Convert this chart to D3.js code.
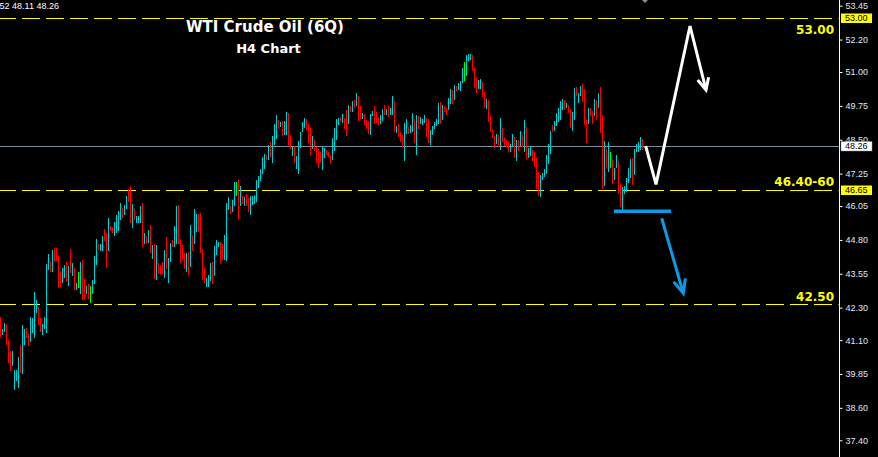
<!DOCTYPE html>
<html><head><meta charset="utf-8">
<script src="https://cdn.jsdelivr.net/npm/d3@7/dist/d3.min.js"></script>
<style>html,body{margin:0;padding:0;background:#000;overflow:hidden}</style>
</head><body>
<svg id="c" width="878" height="457"></svg>
<script>
// ---- data (H4 bars: high / low / direction u=up d=down g=neutral) ----
const highs = [
41.96,41.51,41.73,41.71,41.10,40.70,40.70,40.00,40.00,40.49,
40.92,41.66,41.51,41.55,41.34,41.95,41.92,42.88,42.58,42.32,
41.93,41.71,41.95,43.92,44.28,44.02,44.44,44.50,44.50,44.21,
43.65,43.77,43.87,43.98,43.85,44.46,43.95,43.76,43.22,43.62,
43.98,44.06,43.36,43.10,43.17,43.10,43.32,44.21,44.83,44.65,
44.65,44.94,45.20,45.06,45.61,45.31,45.28,45.46,45.72,45.87,
46.16,45.98,46.09,46.42,46.67,46.79,46.13,45.94,45.69,45.69,
46.05,46.16,45.06,44.94,45.17,45.35,44.61,44.65,44.61,43.95,
43.87,43.98,44.43,44.91,44.13,44.69,44.80,45.31,46.05,46.09,
44.83,44.61,44.32,44.32,44.35,45.35,44.98,45.94,45.76,45.76,
45.79,44.46,43.76,43.39,43.50,43.95,43.98,44.58,44.80,44.72,
44.72,44.65,44.98,46.16,46.38,46.05,46.27,46.94,46.94,47.01,
46.79,46.42,46.38,46.50,46.35,46.42,46.42,46.46,47.01,47.16,
47.42,47.86,47.97,47.94,48.31,48.42,48.64,49.08,49.41,49.23,
49.15,49.19,49.19,49.52,49.49,48.67,48.27,48.27,47.90,48.45,
48.79,49.15,49.30,49.27,49.08,48.97,48.64,48.49,48.23,48.16,
48.05,48.27,48.19,48.12,48.05,47.94,48.56,48.93,49.27,49.30,
49.34,49.45,49.30,49.60,49.78,49.75,49.93,49.97,50.23,50.12,
49.75,49.49,49.45,49.23,49.19,49.45,49.56,49.75,49.52,49.34,
49.41,49.63,49.78,49.63,49.75,49.67,50.12,49.93,49.01,49.08,
48.79,48.67,49.12,49.27,48.97,49.04,49.49,49.27,49.41,49.38,
49.34,49.27,49.41,49.30,49.27,48.86,49.01,49.15,49.27,49.86,
49.89,49.78,49.75,49.67,50.04,50.37,50.34,50.52,50.48,50.60,
50.67,51.15,51.37,51.63,51.67,51.67,51.63,51.15,50.82,50.71,
50.74,50.63,50.26,50.00,49.97,49.38,48.90,48.64,48.71,48.67,
49.30,48.93,48.60,48.49,48.45,48.34,48.71,48.60,48.49,48.49,
48.82,48.67,49.23,48.97,48.19,48.27,48.12,48.05,47.82,47.31,
47.20,47.27,47.42,47.94,48.34,48.82,49.04,49.19,49.49,49.67,
49.93,50.00,49.97,49.86,49.78,49.63,49.52,50.41,50.45,50.23,
50.48,50.56,50.37,49.23,49.67,49.67,49.56,50.00,49.97,50.23,
50.45,49.41,48.45,48.16,48.42,48.05,47.79,47.46,47.94,47.71,
46.90,46.75,46.79,47.09,47.46,47.79,47.82,48.16,48.34,48.42,48.60,48.52];
const lows = [
41.20,41.29,41.41,40.92,40.25,39.97,40.14,39.26,39.60,39.34,
39.90,39.85,40.92,41.19,40.89,41.04,41.36,41.19,42.11,41.66,
41.40,41.30,41.51,41.37,43.68,43.63,43.63,44.00,44.02,43.04,
43.07,43.22,43.38,43.26,43.11,43.57,43.48,42.96,42.96,43.04,
42.81,42.59,42.59,42.81,42.63,42.48,42.81,43.18,43.87,44.42,
44.40,44.40,44.77,43.77,44.40,45.13,45.06,44.96,45.07,45.14,
45.54,45.62,45.72,45.94,46.20,45.42,45.25,45.54,45.42,45.42,
45.42,44.54,44.65,44.66,44.70,44.32,44.10,43.36,43.32,43.54,
43.50,43.54,43.39,43.73,43.21,44.00,44.54,44.54,44.65,44.65,
43.96,44.06,43.73,43.62,43.50,43.80,44.39,44.65,45.09,45.09,
44.32,43.32,43.21,43.05,43.05,43.28,43.17,43.47,44.24,44.54,
43.95,44.06,44.06,44.02,45.90,45.76,45.83,46.05,46.42,45.57,
46.05,46.13,46.05,46.05,45.83,45.72,46.09,46.13,46.20,46.72,
46.98,47.23,47.42,47.75,47.75,47.87,47.65,48.31,48.53,48.90,
48.97,48.64,48.67,48.67,48.31,48.16,47.90,47.64,47.42,47.23,
48.19,48.79,48.93,48.86,48.38,47.94,48.16,48.08,47.64,47.46,
47.68,47.38,47.82,47.94,47.86,47.60,47.75,48.08,48.49,49.04,
49.15,49.12,48.90,48.64,49.08,49.52,49.52,49.67,49.75,49.19,
49.27,49.27,49.04,48.90,48.71,48.67,49.38,49.08,49.12,49.04,
49.08,49.19,49.41,49.41,49.34,49.41,49.41,48.79,48.75,48.60,
48.42,48.23,47.71,48.71,48.71,48.75,48.79,48.38,47.94,48.90,
49.08,49.04,49.12,48.60,48.38,48.31,48.67,48.90,49.01,49.08,
49.08,49.23,49.52,49.41,49.60,49.82,49.82,49.97,50.30,50.34,
50.30,50.60,50.67,50.85,51.41,51.44,51.04,50.41,50.23,50.37,
50.37,50.08,49.67,49.63,49.15,48.79,48.56,48.19,48.34,48.23,
48.12,48.42,48.27,48.23,48.05,48.05,48.23,47.82,47.71,48.08,
48.27,48.23,48.05,47.79,47.82,47.90,47.71,47.49,46.68,46.42,
46.38,47.01,47.12,47.23,47.60,47.97,48.79,48.82,49.01,49.15,
49.23,49.60,49.60,49.67,49.49,48.93,48.82,49.23,50.12,49.86,
50.12,49.89,49.04,48.38,49.08,49.38,49.08,49.38,49.23,49.67,
48.75,46.68,46.79,47.42,47.31,47.46,46.87,47.01,47.46,46.50,
46.02,45.90,46.50,46.57,46.90,47.09,46.83,47.20,48.05,48.05,48.12,48.11];
const dirs = (
"duuddduuuu"+"duudduuuud"+"duuuududdd"+"duudududug"+"uddudguuud"+
"uuddudduuu"+"uduudduduu"+"ududududud"+"dduduuduud"+"dddududuud"+
"ddduuuduuu"+"dduuuduugd"+"ududduuuuu"+"uuududuuud"+"uduudduduu"+
"uuuddduddd"+"duuddduuuu"+"duddududud"+"duddduuddd"+"uududuudud"+
"dduuduudud"+"uuudduuuuu"+"dudduududu"+"uuguuudddu"+"udduddddud"+
"udddduudud"+"ududuudddd"+"uuuuuuduuu"+"uududduudu"+"uddduddudu"+
"ddudugduud"+"duuuuuduuuud").split("");

const priceTicks = [53.45,52.20,51.00,49.75,48.50,47.25,46.05,44.80,43.55,42.30,41.10,39.85,38.60,37.40];
const lastPrice = 48.26;
const tagPrices = [53.00, 46.65];
const levelPrices = [53.00, 46.65, 42.45];
const levelLabels = ["53.00", "46.40-60", "42.50"];
const headerText = "CLQ6,H4 48.44 48.52 48.11 48.26";
const titleText = "WTI Crude Oil (6Q)";
const subtitleText = "H4 Chart";
// hand-drawn scenario (bar index, price)
const bullPath = [[322.85,48.26],[328,46.85],[345,52.70],[353,50.34]];
const bearPath = [[330.85,45.60],[341.65,42.83]];
const supportSeg = [[307,45.86],[335.5,45.86]];
const markerIndex = 322.5;   // small marker at the top edge

// ---- drawing ----
const W = 878, H = 457;
const svg = d3.select("#c");
svg.append("rect").attr("width",W).attr("height",H).attr("fill","#000");
const x = d3.scaleLinear().domain([0, 439]).range([0, 878]);
const y = d3.scaleLinear().domain([37.40, 53.45]).range([440.3, 5.7]);
const colors = {u:"#00ced1", d:"#ff0000", g:"#00ff00"};
const axisX = 839.5;
const axisFont = "Liberation Sans, Arial, sans-serif";

// level lines
svg.selectAll("line.lvl").data(levelPrices).join("line")
  .attr("x1",-2).attr("x2",axisX-1)
  .attr("y1",d=>Math.round(y(d))+0.5).attr("y2",d=>Math.round(y(d))+0.5)
  .attr("stroke","#ffff00").attr("stroke-width",1)
  .attr("stroke-dasharray","18,6");

// last price line
svg.append("line").attr("x1",0).attr("x2",axisX)
  .attr("y1",Math.round(y(lastPrice))+0.5).attr("y2",Math.round(y(lastPrice))+0.5)
  .attr("stroke","#7f8fa0").attr("stroke-width",1);

// bars
svg.append("g").attr("shape-rendering","crispEdges")
  .selectAll("rect").data(highs.map((h,i)=>({i,h,l:lows[i],d:dirs[i]}))).join("rect")
  .attr("x",d=>x(d.i)).attr("width",1)
  .attr("y",d=>Math.round(y(d.h)))
  .attr("height",d=>Math.max(1,Math.round(y(d.l))-Math.round(y(d.h))))
  .attr("fill",d=>colors[d.d]);

// small top marker
const mx = x(markerIndex);
svg.append("path").attr("d",`M${mx-3},0 L${mx+3},0 L${mx},3 Z`).attr("fill","#8090a0");

// level text labels
const lblOff = [16, -4, -3];
svg.selectAll("text.lvl").data(levelLabels).join("text")
  .attr("x",834).attr("y",(d,i)=>y(levelPrices[i])+lblOff[i])
  .attr("text-anchor","end").attr("fill","#ffff00")
  .attr("font-family","DejaVu Sans").attr("font-weight","bold").attr("font-size",12)
  .text(d=>d);

// scenario drawings
const line = d3.line().x(d=>x(d[0])).y(d=>y(d[1]));
function arrowHead(path, len, ang){
  const a = path[path.length-2], b = path[path.length-1];
  const bx=x(b[0]), by=y(b[1]), ax=x(a[0]), ay=y(a[1]);
  const t = Math.atan2(ay-by, ax-bx);
  return [[bx+len*Math.cos(t-ang), by+len*Math.sin(t-ang)],[bx,by],[bx+len*Math.cos(t+ang), by+len*Math.sin(t+ang)]];
}
svg.append("path").attr("d",line(bullPath)).attr("fill","none")
  .attr("stroke","#fff").attr("stroke-width",3).attr("stroke-linejoin","miter");
svg.append("path").attr("d",d3.line()(arrowHead(bullPath,13,0.45))).attr("fill","none")
  .attr("stroke","#fff").attr("stroke-width",3);
svg.append("path").attr("d",line(bearPath)).attr("fill","none")
  .attr("stroke","#0b9be6").attr("stroke-width",3);
svg.append("path").attr("d",d3.line()(arrowHead(bearPath,15,0.42))).attr("fill","none")
  .attr("stroke","#0b9be6").attr("stroke-width",3);
svg.append("path").attr("d",line(supportSeg)).attr("fill","none")
  .attr("stroke","#0b9be6").attr("stroke-width",3.5);

// titles
svg.append("text").attr("x",265).attr("y",32).attr("text-anchor","middle")
  .attr("fill","#fff").attr("font-family","DejaVu Sans").attr("font-weight","bold")
  .attr("font-size",15).text(titleText);
svg.append("text").attr("x",268.5).attr("y",53).attr("text-anchor","middle")
  .attr("fill","#fff").attr("font-family","DejaVu Sans").attr("font-weight","bold")
  .attr("font-size",13).text(subtitleText);
svg.append("text").attr("x",59).attr("y",9).attr("text-anchor","end")
  .attr("fill","#fff").attr("font-family",axisFont).attr("font-size",9)
  .text(headerText);

// price axis
svg.append("line").attr("x1",axisX).attr("x2",axisX).attr("y1",0).attr("y2",H)
  .attr("stroke","#fff").attr("stroke-width",1);
const ax = svg.append("g").attr("transform",`translate(${axisX},0)`)
  .call(d3.axisRight(y).tickValues(priceTicks).tickFormat(d3.format(".2f")).tickSize(3).tickPadding(3));
ax.select(".domain").remove();
ax.selectAll("line").attr("stroke","#fff");
ax.selectAll("text").attr("fill","#e6e6f0").attr("font-family",axisFont).attr("font-size",9);

// price tags
const tags = tagPrices.map(p=>({p,bg:"#ffff00"})).concat([{p:lastPrice,bg:"#ffffff"}]);
const tg = svg.selectAll("g.tag").data(tags).join("g")
  .attr("transform",d=>`translate(841,${Math.round(y(d.p))})`);
tg.append("rect").attr("x",0).attr("y",-4.5).attr("width",31).attr("height",9.5)
  .attr("fill",d=>d.bg).attr("stroke",d=>d.bg==="#ffffff"?"#888":"none").attr("stroke-width",0.5);
tg.append("text").attr("x",4).attr("y",3.3).attr("fill","#000")
  .attr("font-family",axisFont).attr("font-size",9)
  .text(d=>d3.format(".2f")(d.p));
</script>
</body></html>
